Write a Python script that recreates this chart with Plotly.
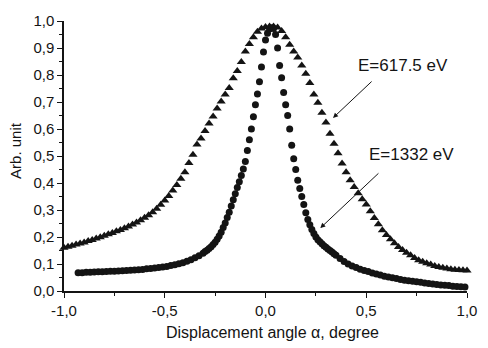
import plotly.graph_objects as go

# E=617.5 eV series (triangles)
x_617 = [-1.00, -0.98, -0.96, -0.94, -0.92, -0.90, -0.88, -0.86, -0.84, -0.82,
         -0.80, -0.78, -0.76, -0.74, -0.72, -0.70, -0.68, -0.66, -0.64, -0.62,
         -0.60, -0.58, -0.56, -0.54, -0.52, -0.50, -0.48, -0.46, -0.44, -0.42,
         -0.40, -0.38, -0.36, -0.34, -0.32, -0.30, -0.28, -0.26, -0.24, -0.22,
         -0.20, -0.18, -0.16, -0.14, -0.12, -0.10, -0.08, -0.06, -0.04, -0.02,
         0.00, 0.02, 0.04, 0.06, 0.08, 0.10, 0.12, 0.14, 0.16, 0.18,
         0.20, 0.22, 0.24, 0.26, 0.28, 0.30, 0.32, 0.34, 0.36, 0.38,
         0.40, 0.42, 0.44, 0.46, 0.48, 0.50, 0.52, 0.54, 0.56, 0.58,
         0.60, 0.62, 0.64, 0.66, 0.68, 0.70, 0.72, 0.74, 0.76, 0.78,
         0.80, 0.82, 0.84, 0.86, 0.88, 0.90, 0.92, 0.94, 0.96, 0.98, 1.00]
y_617 = [0.160, 0.164, 0.168, 0.172, 0.176, 0.180, 0.185, 0.189, 0.194, 0.199,
         0.205, 0.210, 0.215, 0.221, 0.226, 0.232, 0.239, 0.246, 0.254, 0.262,
         0.271, 0.281, 0.292, 0.305, 0.319, 0.335, 0.352, 0.372, 0.393, 0.416,
         0.440, 0.474, 0.505, 0.543, 0.565, 0.593, 0.620, 0.646, 0.676, 0.702,
         0.728, 0.752, 0.788, 0.815, 0.848, 0.887, 0.915, 0.940, 0.960, 0.972,
         0.978, 0.980, 0.980, 0.976, 0.963, 0.940, 0.912, 0.887, 0.865, 0.835,
         0.805, 0.770, 0.728, 0.697, 0.660, 0.624, 0.582, 0.545, 0.510, 0.472,
         0.440, 0.410, 0.385, 0.362, 0.340, 0.320, 0.295, 0.270, 0.247, 0.225,
         0.207, 0.192, 0.177, 0.163, 0.152, 0.142, 0.132, 0.122, 0.114, 0.108,
         0.103, 0.098, 0.093, 0.089, 0.086, 0.083, 0.081, 0.079, 0.078, 0.077, 0.076]

# E=1332 eV series (circles)
x_1332 = [-0.93, -0.91, -0.89, -0.87, -0.85, -0.83, -0.81, -0.79, -0.77, -0.75,
          -0.73, -0.71, -0.69, -0.67, -0.65, -0.63, -0.61, -0.59, -0.57, -0.55,
          -0.53, -0.51, -0.49, -0.47, -0.45, -0.43, -0.41, -0.39, -0.37, -0.35,
          -0.33, -0.31,
          -0.30, -0.29, -0.28, -0.27, -0.26, -0.25, -0.24, -0.23, -0.22, -0.21,
          -0.20, -0.19, -0.18, -0.17, -0.16, -0.15, -0.14, -0.13, -0.12, -0.11,
          -0.10, -0.09, -0.08, -0.07, -0.06, -0.05, -0.04, -0.03, -0.02, -0.01,
          0.00, 0.01, 0.02, 0.03, 0.04, 0.05, 0.06, 0.07, 0.08, 0.09,
          0.10, 0.11, 0.12, 0.13, 0.14, 0.15, 0.16, 0.17, 0.18, 0.19,
          0.20, 0.21, 0.22, 0.23, 0.24, 0.25, 0.26, 0.27, 0.28, 0.29,
          0.30, 0.31, 0.32, 0.33, 0.34, 0.35,
          0.37, 0.39, 0.41, 0.43, 0.45, 0.47, 0.49, 0.51, 0.53, 0.55,
          0.57, 0.59, 0.61, 0.63, 0.65, 0.67, 0.69, 0.71, 0.73, 0.75,
          0.77, 0.79, 0.81, 0.83, 0.85, 0.87, 0.89, 0.91, 0.93, 0.95, 0.97, 0.99]
y_1332 = [0.068, 0.068, 0.069, 0.069, 0.070, 0.071, 0.071, 0.072, 0.073, 0.073,
          0.074, 0.075, 0.076, 0.077, 0.078, 0.079, 0.080, 0.082, 0.083, 0.085,
          0.087, 0.089, 0.091, 0.094, 0.097, 0.101, 0.105, 0.110, 0.116, 0.123,
          0.131, 0.140,
          0.146, 0.151, 0.157, 0.164, 0.172, 0.181, 0.192, 0.204, 0.218, 0.235,
          0.252, 0.272, 0.292, 0.315, 0.338, 0.360, 0.383, 0.405, 0.428, 0.452,
          0.480, 0.520, 0.560, 0.600, 0.645, 0.690, 0.730, 0.775, 0.830, 0.885,
          0.930, 0.955, 0.970, 0.975, 0.972, 0.950, 0.900, 0.835, 0.790, 0.735,
          0.690, 0.650, 0.600, 0.540, 0.490, 0.450, 0.410, 0.380, 0.350, 0.320,
          0.290, 0.265, 0.245, 0.228, 0.213, 0.200, 0.190, 0.182, 0.175, 0.168,
          0.162, 0.156, 0.150, 0.144, 0.138, 0.132,
          0.120, 0.109, 0.100, 0.093, 0.087, 0.081, 0.076, 0.072, 0.067, 0.063,
          0.059, 0.055, 0.052, 0.049, 0.046, 0.043, 0.040, 0.038, 0.036, 0.034,
          0.032, 0.030, 0.028, 0.026, 0.024, 0.022, 0.021, 0.020, 0.018, 0.017, 0.016, 0.015]

x_tickvals = [-1.0, -0.5, 0.0, 0.5, 1.0]
x_ticktext = ["-1,0", "-0,5", "0,0", "0,5", "1,0"]
y_tickvals = [0.0, 0.1, 0.2, 0.3, 0.4, 0.5, 0.6, 0.7, 0.8, 0.9, 1.0]
y_ticktext = ["0,0", "0,1", "0,2", "0,3", "0,4", "0,5", "0,6", "0,7", "0,8", "0,9", "1,0"]

labels = ["E=617.5 eV", "E=1332 eV"]

INK = "#141414"
FONT = "Liberation Sans, Arial, sans-serif"

fig = go.Figure()
fig.add_trace(go.Scatter(x=x_617, y=y_617, mode="markers", cliponaxis=False,
                         marker=dict(symbol="triangle-up", size=8, color=INK, line=dict(width=0)),
                         showlegend=False))
fig.add_trace(go.Scatter(x=x_1332, y=y_1332, mode="markers", cliponaxis=False,
                         marker=dict(symbol="circle", size=7, color=INK, line=dict(width=0)),
                         showlegend=False))

# labels with arrows
fig.add_annotation(x=0.684, y=0.837, xref="x", yref="y", text=labels[0], showarrow=False,
                   xanchor="center", yanchor="middle",
                   font=dict(family=FONT, size=17, color=INK))
fig.add_annotation(x=0.335, y=0.641, xref="x", yref="y", ax=0.534, ay=0.781,
                   axref="x", ayref="y", text="", showarrow=True, arrowhead=2,
                   arrowsize=1, arrowwidth=1, arrowcolor=INK)
fig.add_annotation(x=0.723, y=0.507, xref="x", yref="y", text=labels[1], showarrow=False,
                   xanchor="center", yanchor="middle",
                   font=dict(family=FONT, size=17, color=INK))
fig.add_annotation(x=0.272, y=0.233, xref="x", yref="y", ax=0.568, ay=0.441,
                   axref="x", ayref="y", text="", showarrow=True, arrowhead=2,
                   arrowsize=1, arrowwidth=1, arrowcolor=INK)

# axis titles
fig.add_annotation(x=0.518, y=-0.152, xref="paper", yref="paper",
                   xanchor="center", yanchor="middle",
                   text="Displacement angle α, degree", showarrow=False,
                   font=dict(family=FONT, size=16, color=INK))
fig.add_annotation(x=-0.119, y=0.519, xref="paper", yref="paper",
                   xanchor="center", yanchor="middle",
                   text="Arb. unit", textangle=-90, showarrow=False,
                   font=dict(family=FONT, size=15, color=INK))

fig.update_xaxes(range=[-1.0, 1.0], showline=True, linewidth=1.5, linecolor=INK,
                 showgrid=False, zeroline=False, ticks="outside", ticklen=5,
                 tickwidth=1.2, tickcolor=INK, tickvals=x_tickvals, ticktext=x_ticktext,
                 tickfont=dict(family=FONT, size=15, color=INK),
                 minor=dict(dtick=0.25, tick0=0, ticks="outside", ticklen=3,
                            tickwidth=1, tickcolor=INK, showgrid=False))
fig.update_yaxes(range=[0.0, 1.0], showline=True, linewidth=1.5, linecolor=INK,
                 showgrid=False, zeroline=False, ticks="outside", ticklen=5,
                 tickwidth=1.2, tickcolor=INK, tickvals=y_tickvals, ticktext=y_ticktext,
                 tickfont=dict(family=FONT, size=15, color=INK),
                 minor=dict(dtick=0.05, tick0=0, ticks="outside", ticklen=3,
                            tickwidth=1, tickcolor=INK, showgrid=False))

fig.update_layout(width=488, height=348, margin=dict(l=64, r=11, t=21, b=57),
                  paper_bgcolor="white", plot_bgcolor="white",
                  font=dict(family=FONT, color=INK))

fig.write_html("out.html")
